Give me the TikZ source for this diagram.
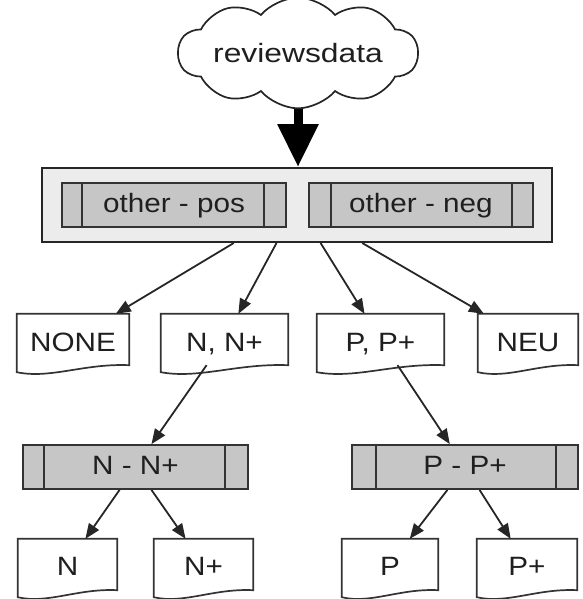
\documentclass[tikz,border=0pt]{standalone}
\usepackage{fontspec}
\setmainfont[FakeStretch=1.12]{Liberation Sans}
\newfontfamily\widefont[FakeStretch=1.2]{Liberation Sans}
\usetikzlibrary{arrows.meta,calc,shapes.symbols}
\newcommand\docoutline[1]{%
  \draw[docline] (#1.north west) -- (#1.north east) -- (#1.south east)
    .. controls ($(#1.south west)!0.6!(#1.south east)+(0,-2)$) and ($(#1.south west)!0.3!(#1.south east)+(0,14)$)
    .. ($(#1.south west)+(0,7)$) -- cycle;}
\newcommand\barlines[3]{%
  \draw[barline] ($(#1.north west)+(#2,0)$) -- ($(#1.south west)+(#2,0)$);
  \draw[barline] ($(#1.north east)+(-#3,0)$) -- ($(#1.south east)+(-#3,0)$);}
\begin{document}
\begin{tikzpicture}[x=1pt,y=-1pt,
  every node/.style={text=black!88, font=\fontsize{26.5}{30}\selectfont, inner sep=0pt},
  doc/.style={rectangle, minimum height=51},
  doctext/.style={anchor=base},
  docline/.style={draw=black!80, line width=1.7pt, fill=white},
  barbox/.style={rectangle, draw=black!80, line width=1.8pt, fill=gray!45, minimum height=44, text height=19, text depth=5},
  barline/.style={draw=black!80, line width=1.8pt},
  outerbox/.style={rectangle, draw=black!85, line width=2pt, fill=gray!15, minimum width=510, minimum height=74},
  conn/.style={draw=black!85, line width=1.8pt, -{Triangle[length=15pt,width=12pt]}},
  bigarrow/.style={draw=black, line width=9pt, -{Triangle[length=43pt,width=39pt]}}
]
\useasboundingbox (0,0) rectangle (582,599);

% cloud
\node[cloud, cloud puffs=10, cloud puff arc=100, aspect=3, draw=black!85, line width=1.7pt,
      minimum width=222, minimum height=72, font=\widefont\fontsize{26.5}{30}\selectfont] (cloud) at (298,53) {reviewsdata};

% container
\node[outerbox] (outer) at (297,205) {};
\node[barbox, minimum width=224] (opos) at (174,205) {other - pos};
\node[barbox, minimum width=224] (oneg) at (421,205) {other - neg};
\barlines{opos}{21}{23}
\barlines{oneg}{23}{22}

% second row documents
\node[doc, minimum width=112] (none) at (73,339.5) {};
\node[doc, minimum width=127] (nn) at (224.5,339.5) {};
\node[doc, minimum width=127] (pp) at (380.5,339.5) {};
\node[doc, minimum width=100] (neu) at (528,339.5) {};
\docoutline{none}\docoutline{nn}\docoutline{pp}\docoutline{neu}
\node[doctext] at ($(none.north)+(0,38)$) (tnone) {NONE};
\node[doctext] at ($(nn.north)+(0,38)$) (tnn) {N, N+};
\node[doctext] at ($(pp.north)+(0,38)$) (tpp) {P, P+};
\node[doctext] at ($(neu.north)+(0,38)$) (tneu) {NEU};

% third row
\node[barbox, minimum width=225] (nnp) at (135.5,467) {N - N+};
\node[barbox, minimum width=226] (ppp) at (465,467) {P - P+};
\barlines{nnp}{22}{24}
\barlines{ppp}{25}{23}

% fourth row documents
\node[doc, minimum width=99] (n) at (67.5,564.5) {};
\node[doc, minimum width=99] (np) at (203.5,564.5) {};
\node[doc, minimum width=96] (p) at (390,564.5) {};
\node[doc, minimum width=100] (pplus) at (527,564.5) {};
\docoutline{n}\docoutline{np}\docoutline{p}\docoutline{pplus}
\node[doctext] at ($(n.north)+(0,37)$) (tn) {N};
\node[doctext] at ($(np.north)+(0,37)$) (tnp) {N+};
\node[doctext] at ($(p.north)+(0,37)$) (tp) {P};
\node[doctext] at ($(pplus.north)+(0,37)$) (tpplus) {P+};

% connectors
\draw[bigarrow] (cloud.south) -- (cloud.south |- outer.north);
\draw[conn] (outer) -- (none);
\draw[conn] (outer) -- (nn);
\draw[conn] (outer) -- (pp);
\draw[conn] (outer) -- (neu);
\draw[conn] (nn) -- (nnp);
\draw[conn] (pp) -- (ppp);
\draw[conn] (nnp) -- (n);
\draw[conn] (nnp) -- (np);
\draw[conn] (ppp) -- (p);
\draw[conn] (ppp) -- (pplus);
\end{tikzpicture}
\end{document}
